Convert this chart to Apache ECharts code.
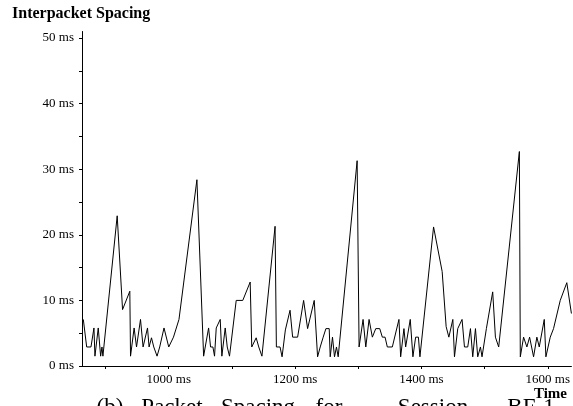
<!DOCTYPE html>
<html>
<head>
<meta charset="utf-8">
<script src="https://cdn.jsdelivr.net/npm/echarts@6/dist/echarts.min.js"></script>
<style>
html,body{margin:0;padding:0;background:#fff;}
#c{width:573px;height:406px;}
</style>
</head>
<body>
<div id="c"></div>
<script>
// Packet arrival time (ms) and interpacket spacing (ms)
var times = [864.8, 870.1, 876.9, 881.6, 883.2, 888.4, 892.2, 894.3, 895.8, 918.4,
  926.9, 938.4, 939.5, 945.2, 949.0, 955.3, 959.4, 966.4, 968.9, 972.7,
  976.3, 981.5, 985.7, 992.5, 1000.0, 1007.5, 1016.2, 1044.6, 1055.2, 1063.1,
  1066.2, 1069.9, 1072.5, 1075.2, 1081.5, 1084.1, 1089.4, 1092.6, 1096.2, 1106.8,
  1117.2, 1128.9, 1131.4, 1138.4, 1142.5, 1147.5, 1168.3, 1170.4, 1176.2, 1179.4,
  1184.6, 1192.0, 1196.1, 1204.0, 1213.5, 1219.8, 1230.3, 1235.6, 1239.8, 1244.5,
  1248.8, 1254.0, 1255.6, 1259.2, 1262.4, 1265.5, 1268.2, 1298.2, 1301.3, 1307.6,
  1311.9, 1317.1, 1322.3, 1327.7, 1334.0, 1338.1, 1342.4, 1346.0, 1353.9, 1364.4,
  1367.1, 1372.3, 1375.0, 1382.3, 1386.5, 1390.8, 1395.2, 1397.6, 1419.2, 1432.8,
  1439.1, 1443.4, 1449.7, 1452.3, 1457.5, 1464.3, 1468.1, 1473.3, 1477.6, 1481.2,
  1485.5, 1489.1, 1493.4, 1495.9, 1502.8, 1512.8, 1517.1, 1522.3, 1555.0, 1556.5,
  1561.7, 1566.9, 1571.2, 1577.5, 1582.7, 1586.5, 1594.4, 1597.0, 1603.9, 1609.1,
  1619.7, 1630.1, 1637.4];
var spacing = [7.1, 2.9, 2.9, 5.8, 1.5, 5.8, 1.5, 2.9, 1.5, 22.9,
  8.6, 11.4, 1.5, 5.8, 2.9, 7.1, 2.9, 5.8, 2.9, 4.3,
  2.9, 1.5, 2.9, 5.8, 2.9, 4.4, 7.1, 28.4, 1.5, 5.8,
  2.9, 2.9, 1.5, 5.8, 7.1, 1.5, 5.8, 2.9, 1.5, 10,
  10, 12.8, 2.9, 4.3, 2.9, 1.5, 21.3, 2.9, 2.9, 1.4,
  5.5, 8.5, 4.4, 4.4, 10, 5.7, 10, 1.4, 2.9, 4.4,
  5.7, 5.7, 1.4, 4.4, 1.4, 2.9, 1.4, 31.3, 2.9, 7.1,
  2.9, 7.1, 4.4, 5.7, 5.7, 4.4, 4.4, 2.9, 2.9, 7.1,
  1.4, 5.7, 2.9, 7.1, 1.4, 4.4, 4.4, 1.4, 21.2, 14.4,
  6.0, 4.4, 7.1, 1.4, 5.7, 7.1, 2.9, 2.9, 5.7, 1.4,
  5.7, 1.4, 2.9, 1.4, 5.7, 11.3, 4.4, 2.9, 32.7, 1.4,
  4.4, 2.9, 4.4, 1.4, 4.4, 2.9, 7.1, 1.4, 4.4, 5.7,
  10, 12.7, 8.0];
var xTickValues = [900, 1000, 1100, 1200, 1300, 1400, 1500, 1600];
var xLabelValues = [1000, 1200, 1400, 1600];
var yTickValues = [0, 5, 10, 15, 20, 25, 30, 35, 40, 45, 50];
var yLabelValues = [0, 10, 20, 30, 40, 50];
var captionWords = ['(b)', 'Packet', 'Spacing', 'for', 'Session', 'BF-1'];
var captionCenters = [110, 172, 258, 329, 433, 531];

var FONT = "'Liberation Serif','DejaVu Serif',serif";
var data = times.map(function (t, i) { return [t, spacing[i]]; });

var graphics = [
  {type: 'text', left: 12, top: 6, style: {text: 'Interpacket Spacing', font: 'bold 16px ' + FONT, fill: '#000'}},
  {type: 'text', x: 567, y: 394, style: {text: 'Time', font: 'bold 15px ' + FONT, fill: '#000', textAlign: 'right', textVerticalAlign: 'middle'}}
];
captionWords.forEach(function (w, i) {
  graphics.push({type: 'text', x: captionCenters[i], y: 408,
    style: {text: w, font: '23px ' + FONT, fill: '#000', textAlign: 'center', textVerticalAlign: 'middle'}});
});

var chart = echarts.init(document.getElementById('c'), null, {renderer: 'canvas'});
chart.setOption({
  animation: false,
  backgroundColor: '#fff',
  grid: {left: 82, right: 0, top: 31.5, bottom: 40, containLabel: false},
  xAxis: {
    type: 'value', min: 862.7, max: 1637.4,
    axisLine: {show: true, lineStyle: {color: '#000', width: 1}},
    axisTick: {show: true, length: 3, customValues: xTickValues, lineStyle: {color: '#000'}},
    axisLabel: {customValues: xLabelValues, formatter: function (v) { return v + ' ms'; },
      color: '#000', fontFamily: FONT, fontSize: 13, margin: 7},
    splitLine: {show: false}
  },
  yAxis: {
    type: 'value', min: 0, max: 51,
    axisLine: {show: true, lineStyle: {color: '#000', width: 1}},
    axisTick: {show: true, length: 3, customValues: yTickValues, lineStyle: {color: '#000'}},
    axisLabel: {customValues: yLabelValues, formatter: function (v) { return v + ' ms'; },
      color: '#000', fontFamily: FONT, fontSize: 13, margin: 8},
    splitLine: {show: false}
  },
  series: [{
    type: 'line', data: data, symbol: 'none', silent: true,
    lineStyle: {color: '#000', width: 1}
  }],
  graphic: graphics
});
</script>
</body>
</html>
